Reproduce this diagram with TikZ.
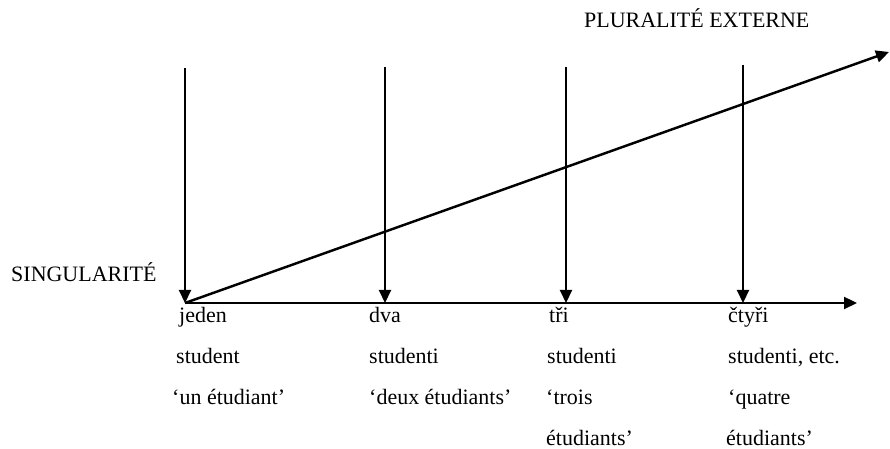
\documentclass[tikz,border=0pt]{standalone}
\usepackage{fontspec}
\setmainfont{Liberation Serif}
\usepackage{tikz}
\usetikzlibrary{arrows.meta}

\tikzset{lbl/.style={anchor=base west,inner sep=0pt}}

\begin{document}
\begin{tikzpicture}[>={Triangle[length=7.4pt,width=6.8pt]},line width=1.4pt,
  font=\fontsize{12.5}{15}\selectfont]
\useasboundingbox(0,0)rectangle(17.8,8.98);
% axes
\coordinate(o)at(3.7,2.92);
\coordinate(xend)at(17.14,2.92);
\coordinate(pend)at(17.78,7.94);
\draw[->](o)--(xend);
\draw[->](o)--(pend);
% vertical arrows
\coordinate(t1)at(3.7,7.62);
\coordinate(t2)at(7.7,7.64);\coordinate(b2)at(7.7,2.92);
\coordinate(t3)at(11.32,7.64);\coordinate(b3)at(11.32,2.92);
\coordinate(t4)at(14.86,7.68);\coordinate(b4)at(14.86,2.92);
\draw[->](t1)--(o);
\draw[->](t2)--(b2);
\draw[->](t3)--(b3);
\draw[->](t4)--(b4);
\node[lbl](sing)at(0.2,3.34){SINGULARITÉ};
\node[lbl](plur)at(11.66,8.42){PLURALITÉ EXTERNE};
% columns
\node[lbl](jeden)at(3.56,2.52){jeden};
\node[lbl](stud1)at(3.5,1.70){student};
\node[lbl](fr1)at(3.42,0.88){‘un étudiant’};
\node[lbl](dva)at(7.36,2.52){dva};
\node[lbl](stud2)at(7.36,1.70){studenti};
\node[lbl](fr2)at(7.36,0.88){‘deux étudiants’};
\node[lbl](tri)at(10.96,2.52){tři};
\node[lbl](stud3)at(10.92,1.70){studenti};
\node[lbl](fr3)at(10.9,0.88){‘trois};
\node[lbl](fr3b)at(10.9,0.06){étudiants’};
\node[lbl](ctyri)at(14.54,2.52){čtyři};
\node[lbl](stud4)at(14.54,1.70){studenti, etc.};
\node[lbl](fr4)at(14.54,0.88){‘quatre};
\node[lbl](fr4b)at(14.5,0.06){étudiants’};
\end{tikzpicture}
\end{document}
